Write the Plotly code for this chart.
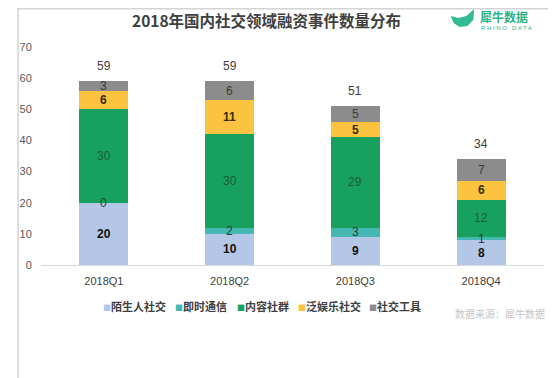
import plotly.graph_objects as go

quarters = ["2018Q1", "2018Q2", "2018Q3", "2018Q4"]
series_names = ["陌生人社交", "即时通信", "内容社群", "泛娱乐社交", "社交工具"]
stranger = [20, 10, 9, 8]
im = [0, 2, 3, 1]
content = [30, 30, 29, 12]
entertainment = [6, 11, 5, 6]
tools = [3, 6, 5, 7]
y_ticks = [0, 10, 20, 30, 40, 50, 60, 70]

series_values = [stranger, im, content, entertainment, tools]
colors = ["#B4C7E7", "#45B8B2", "#17A05E", "#FBC340", "#8C8C8C"]
label_colors = ["#111111", "#1E3F3F", "#1B5E3B", "#3A2C00", "#3A3A3A"]
label_bold = [True, False, False, True, False]

FONT = "Liberation Sans, Arial, Noto Sans CJK SC"
CJK = "Noto Sans CJK SC, Liberation Sans"

# The page body has an 8px margin; the figure is sized so that content lines up
# with the reference's pixel positions.
OFF = 8
W, H = 556 - OFF, 378 - OFF
# plot area in reference pixels
L, R, T, B = 32, 544, 47, 265
def px(x):
    return (x - L) / (R - L)
def py(y):
    return (B - y) / (B - T)

fig = go.Figure()
for name, vals, c in zip(series_names, series_values, colors):
    fig.add_trace(go.Bar(
        x=quarters, y=vals, name=name, marker=dict(color=c, line=dict(width=0)),
        hoverinfo="x+y+name",
    ))

annotations = []
# segment labels at the middle of each stacked segment
base = [0] * len(quarters)
for vals, lc, bold in zip(series_values, label_colors, label_bold):
    for i, (q, v) in enumerate(zip(quarters, vals)):
        mid = base[i] + v / 2
        annotations.append(dict(x=q, y=mid, xref="x", yref="y",
                                text=f"<b>{v}</b>" if bold else str(v), showarrow=False,
                                xanchor="center", yanchor="middle",
                                font=dict(family=FONT, size=12, color=lc)))
        base[i] += v

totals = [sum(v) for v in zip(*series_values)]
for q, t in zip(quarters, totals):
    annotations.append(dict(x=q, y=t, xref="x", yref="y", text=str(t), showarrow=False,
                            xanchor="center", yanchor="middle",
                            yshift=15, font=dict(family=FONT, size=12, color="#404040")))

def note(x, y, text, size, color, family=CJK, xanchor="center"):
    annotations.append(dict(x=px(x), y=py(y), xref="paper", yref="paper", text=text,
                            showarrow=False, xanchor=xanchor, yanchor="middle",
                            font=dict(family=family, size=size, color=color)))

note(262, 20, "<b>2018年国内社交领域融资事件数量分布</b>", 15.5, "#404040")
note(477, 17, "<b>犀牛数据</b>", 12, "#2DB389", xanchor="left")
note(478, 28, "R H I N O   D A T A", 6, "#2DB389", family=FONT, xanchor="left")

legend_x = [93, 166, 229, 292, 364]
for name, c, lx in zip(series_names, colors, legend_x):
    note(lx, 306, f"<span style='color:{c};font-size:8px'>■</span><b>{name}</b>", 11,
         "#404040", xanchor="left")

note(547, 313, "数据来源：犀牛数据", 10, "#C4C4C4", xanchor="right")

shapes = [
    # rhino icon
    dict(type="path", xref="paper", yref="paper", line=dict(width=0), fillcolor="#34B995",
         path=(f"M{px(449)},{py(16)} L{px(457)},{py(18)} L{px(465)},{py(16)} "
               f"L{px(473)},{py(9)} L{px(472)},{py(20)} L{px(466)},{py(26)} "
               f"L{px(458)},{py(27)} L{px(452)},{py(23)} Z")),
    # frame lines (left, top) at the figure edge
    dict(type="line", xref="paper", yref="paper", x0=px(OFF + 0.7), x1=px(OFF + 0.7),
         y0=py(OFF), y1=py(378), line=dict(color="#D4D4D4", width=1.5)),
    dict(type="line", xref="paper", yref="paper", x0=px(OFF), x1=px(556), y0=py(OFF + 0.7),
         y1=py(OFF + 0.7), line=dict(color="#D4D4D4", width=1.5)),
]

fig.update_layout(
    width=W, height=H, barmode="stack", bargap=0.61,
    margin=dict(l=L - OFF, r=556 - R, t=T - OFF, b=378 - B),
    paper_bgcolor="white", plot_bgcolor="white",
    showlegend=False, annotations=annotations, shapes=shapes,
)
fig.update_xaxes(showline=True, linecolor="#D9D9D9", linewidth=1, ticks="outside",
                 ticklen=6, tickcolor="rgba(0,0,0,0)",
                 tickfont=dict(family=FONT, size=11, color="#404040"), fixedrange=True)
fig.update_yaxes(range=[0, 70], tickvals=y_ticks, showgrid=False, zeroline=False,
                 showline=False, ticks="outside", ticklen=6, tickcolor="rgba(0,0,0,0)",
                 tickfont=dict(family=FONT, size=11, color="#595959"), fixedrange=True)

fig.write_html("out.html")
